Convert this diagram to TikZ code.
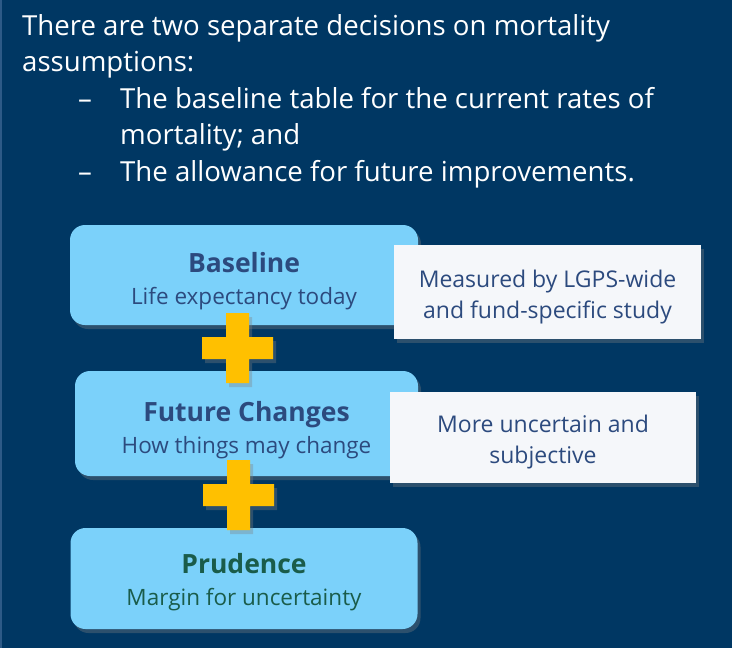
\documentclass[tikz,border=0pt]{standalone}
\usepackage{fontspec}
\setmainfont{Open Sans}
\usetikzlibrary{shadows,calc}
\definecolor{slidebg}{RGB}{0,55,99}
\definecolor{slideedge}{RGB}{45,90,135}
\definecolor{boxblue}{RGB}{123,209,250}
\definecolor{boxwhite}{RGB}{245,247,250}
\definecolor{txtblue}{RGB}{44,74,126}
\definecolor{txtgreen}{RGB}{26,92,74}
\definecolor{plusgold}{RGB}{255,192,0}
% Plus sign centred on a named coordinate
\newcommand{\plusmark}[1]{%
  \fill[plusfill, shift={(#1)}] (-11.5,-35) -- (11.5,-35) -- (11.5,-11)
    -- (35.5,-11) -- (35.5,11) -- (11.5,11) -- (11.5,35) -- (-11.5,35)
    -- (-11.5,11) -- (-35.5,11) -- (-35.5,-11) -- (-11.5,-11) -- cycle;}
\newcommand{\boxhead}[1]{{\fontsize{26.5}{28}\selectfont\bfseries\rule{0pt}{33pt}#1}}
\tikzset{
  % Heading text
  headtxt/.style  = {anchor=base west, inner sep=0pt, text=white,
                     font=\fontsize{27.6}{30}\selectfont},
  % Rounded light blue boxes
  bluebox/.style  = {fill=boxblue, rounded corners=15pt, align=center,
                     text=txtblue, font=\fontsize{22.5}{26}\selectfont,
                     drop shadow={opacity=0.35, shadow xshift=3pt, shadow yshift=-4pt}},
  % Side notes
  notebox/.style  = {fill=boxwhite, align=center, text=txtblue,
                     font=\fontsize{23}{31}\selectfont,
                     drop shadow={opacity=0.35, shadow xshift=3pt, shadow yshift=-4pt}},
  plusfill/.style = {fill=plusgold,
                     drop shadow={opacity=0.35, shadow xshift=3pt, shadow yshift=-4pt}},
}
\begin{document}
\begin{tikzpicture}[x=1pt, y=-1pt]
  % Background
  \fill[slidebg] (0,0) rectangle (732,648);
  \useasboundingbox (0,0) rectangle (732,648);
  \draw[slideedge, line width=2pt] (1,0) -- (1,648);
  % Heading
  \node[headtxt] (head1) at (22,35)  {There are two separate decisions on mortality};
  \node[headtxt] (head2) at (22,71.5){assumptions:};
  \node[headtxt] (dash1) at (78,108) {–};
  \node[headtxt] (head3) at (120,108){The baseline table for the current rates of};
  \node[headtxt] (head4) at (120,144.5){mortality; and};
  \node[headtxt] (dash2) at (78,181) {–};
  \node[headtxt] (head5) at (120,181){The allowance for future improvements.};
  % Blue boxes
  \node[bluebox, minimum width=348, minimum height=100] (base) at (244,275)
    {\boxhead{Baseline}\\[6pt] Life expectancy today};
  \node[bluebox, minimum width=343, minimum height=105] (future) at (246.5,423.5)
    {\boxhead{Future Changes}\\[6pt] How things may change};
  \node[bluebox, minimum width=347, minimum height=101, text=txtgreen] (prud) at (244,578.5)
    {\boxhead{Prudence}\\[6pt] Margin for uncertainty\rule[-11pt]{0pt}{1pt}};
  % Notes
  \node[notebox, minimum width=307, minimum height=94] (note1) at (547.5,292)
    {\rule{0pt}{27pt}Measured by LGPS-wide\\ and fund-specific study};
  \node[notebox, minimum width=306, minimum height=91] (note2) at (543,437.5)
    {\rule{0pt}{26pt}More uncertain and\\ subjective};
  % Plus signs between the boxes
  \coordinate (plusA) at (237.5,348);
  \coordinate (plusB) at (238.5,495);
  \plusmark{plusA}
  \plusmark{plusB}
\end{tikzpicture}
\end{document}
